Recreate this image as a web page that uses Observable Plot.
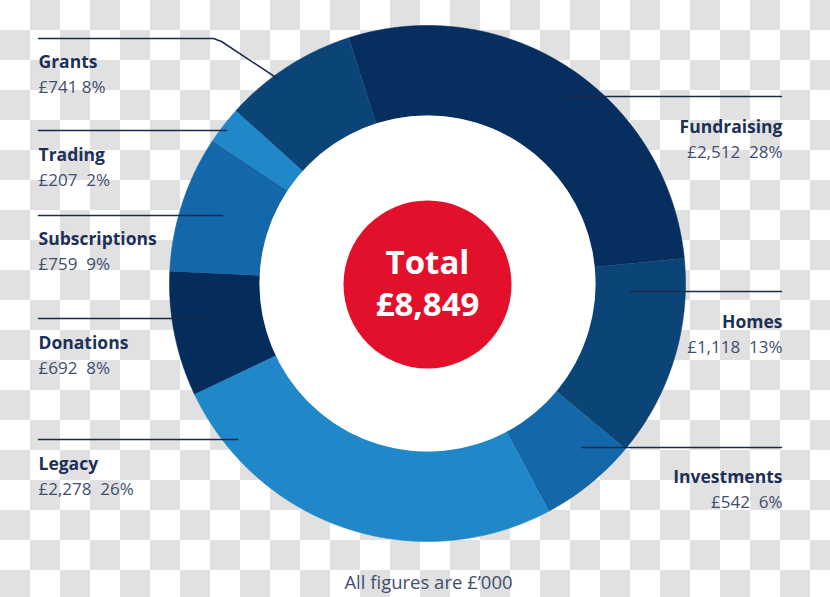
<!DOCTYPE html>
<html>
<head>
<meta charset="utf-8">
<script src="https://cdn.jsdelivr.net/npm/d3@7"></script>
<script src="https://cdn.jsdelivr.net/npm/@observablehq/plot@0.6"></script>
<style>
  html, body { margin: 0; padding: 0; }
  body {
    width: 830px; height: 597px; overflow: hidden;
    background: repeating-conic-gradient(#e1e1e1 0 25%, #ffffff 0 50%) 0 0 / 60px 60px;
  }
  #chart svg { display: block; }
</style>
</head>
<body>
<div id="chart"></div>
<script>
// ---- data ----
const categories = ["Fundraising", "Homes", "Investments", "Legacy", "Donations", "Subscriptions", "Trading", "Grants"];
const amounts = [2512, 1118, 542, 2278, 692, 759, 207, 741];
const percents = [28, 13, 6, 26, 8, 9, 2, 8];
const totalLabel = "Total\n£8,849";
const caption = "All figures are £’000";

// ---- styles ----
const sliceColors = ["#062e5f", "#0b4477", "#1467a8", "#2088c9", "#052d5c", "#1467a8", "#2088c9", "#0b4477"];
const W = 830, H = 597;
const cx = 427, cy = 283, rOuter = 258, rInner = 168, rRed = 84;
const startAngle = -0.311;
const fontFamily = "'Open Sans', 'Noto Sans', sans-serif";

// label layout: [x of text, anchor, label baseline, leader line points]
const layout = {
  Grants:        {tx: 38,  anchor: "start", by: 67,  line: [[38, 38], [213, 38], [221, 41], [277, 78]]},
  Trading:       {tx: 38,  anchor: "start", by: 160, line: [[38, 130], [226, 130]]},
  Subscriptions: {tx: 38,  anchor: "start", by: 244, line: [[38, 215], [222, 215]]},
  Donations:     {tx: 38,  anchor: "start", by: 348, line: [[38, 318], [206, 318]]},
  Legacy:        {tx: 38,  anchor: "start", by: 469, line: [[38, 439], [237, 439]]},
  Fundraising:   {tx: 782, anchor: "end",   by: 132, line: [[567, 96], [781, 96]]},
  Homes:         {tx: 782, anchor: "end",   by: 327, line: [[630, 291], [781, 291]]},
  Investments:   {tx: 782, anchor: "end",   by: 482, line: [[581, 447], [781, 447]]}
};

// ---- slices ----
const slices = categories.map((name, i) => ({name, amount: amounts[i], percent: percents[i]}));
const pie = d3.pie().value(d => d.amount).sort(null)
  .startAngle(startAngle).endAngle(startAngle + 2 * Math.PI);
const arcs = pie(slices);
const polyPoints = [];
for (const a of arcs) {
  const n = Math.max(4, Math.ceil((a.endAngle - a.startAngle) / 0.005));
  const pts = [];
  for (let k = 0; k <= n; k++) {
    const t = a.startAngle + (a.endAngle - a.startAngle) * k / n;
    pts.push({name: a.data.name, x: cx + rOuter * Math.sin(t), y: cy - rOuter * Math.cos(t)});
  }
  for (let k = n; k >= 0; k--) {
    const t = a.startAngle + (a.endAngle - a.startAngle) * k / n;
    pts.push({name: a.data.name, x: cx + rInner * Math.sin(t), y: cy - rInner * Math.cos(t)});
  }
  polyPoints.push(...pts);
}

// ---- labels ----
const labelRows = slices.map(d => {
  const L = layout[d.name];
  const sep = d.name === "Grants" ? " " : " \u00a0";
  return {
    name: d.name,
    value: "£" + d3.format(",")(d.amount) + sep + d.percent + "%",
    x: L.tx, anchor: L.anchor, y1: L.by, y2: L.by + 25
  };
});
const leaderPts = [];
for (const d of slices) {
  for (const [x, y] of layout[d.name].line) leaderPts.push({name: d.name, x, y});
}

const textStart = labelRows.filter(d => d.anchor === "start");
const textEnd = labelRows.filter(d => d.anchor === "end");

const plot = Plot.plot({
  width: W, height: H,
  margin: 0,
  style: {background: "transparent", overflow: "visible"},
  x: {domain: [0, W], range: [0, W], axis: null},
  y: {domain: [0, H], range: [0, H], axis: null},
  color: {domain: categories, range: sliceColors},
  marks: [
    Plot.line(polyPoints, {x: "x", y: "y", z: "name", fill: "name", stroke: "name", strokeWidth: 0.6, curve: "linear"}),
    Plot.dot([{x: cx, y: cy}], {x: "x", y: "y", r: rInner, fill: "#ffffff", stroke: null}),
    Plot.dot([{x: cx, y: cy + 1}], {x: "x", y: "y", r: rRed, fill: "#e3102c", stroke: null}),
    Plot.text([totalLabel], {x: () => cx, y: () => 315, text: d => d, fill: "#ffffff", fontSize: 33, lineHeight: 1.27, fontWeight: 700, fontFamily, textAnchor: "middle", lineAnchor: "bottom"}),
    Plot.line(leaderPts, {x: "x", y: "y", z: "name", stroke: "#1c2b4b", strokeWidth: 1.5, curve: "linear"}),
    Plot.text(textStart, {x: "x", y: "y1", text: "name", fill: "#1d3057", fontSize: 17.5, fontWeight: 700, fontFamily, textAnchor: "start", lineAnchor: "bottom"}),
    Plot.text(textStart, {x: "x", y: "y2", text: "value", fill: "#3f4e6e", fontSize: 17, fontWeight: 400, fontFamily, textAnchor: "start", lineAnchor: "bottom"}),
    Plot.text(textEnd, {x: "x", y: "y1", text: "name", fill: "#1d3057", fontSize: 17.5, fontWeight: 700, fontFamily, textAnchor: "end", lineAnchor: "bottom"}),
    Plot.text(textEnd, {x: "x", y: "y2", text: "value", fill: "#3f4e6e", fontSize: 17, fontWeight: 400, fontFamily, textAnchor: "end", lineAnchor: "bottom"}),
    Plot.text([caption], {x: () => cx + 1, y: () => 588, text: d => d, fill: "#3f4e6e", fontSize: 18.5, fontWeight: 400, fontFamily, textAnchor: "middle", lineAnchor: "bottom"})
  ]
});
document.getElementById("chart").appendChild(plot);
</script>
</body>
</html>
